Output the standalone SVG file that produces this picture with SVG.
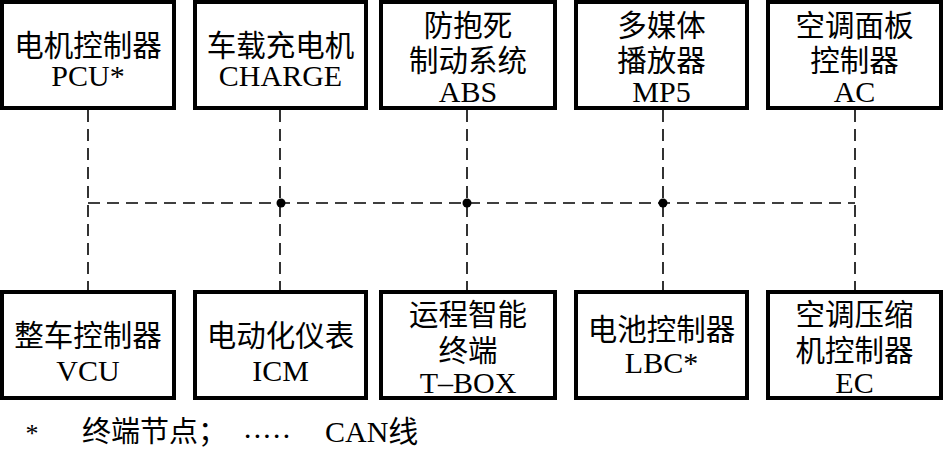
<svg xmlns="http://www.w3.org/2000/svg" width="943" height="449" viewBox="0 0 943 449">
<style>
.box{fill:#fff;stroke:#000;stroke-width:4}
.t{font-family:"Liberation Serif","Noto Sans CJK SC",serif;font-size:29.5px;text-anchor:middle;fill:#000}
.l{font-family:"Liberation Serif","Noto Sans CJK SC",serif;font-size:30px;text-anchor:middle;fill:#000}
.bus{stroke:#000;stroke-width:1.6;fill:none;stroke-dasharray:12 7}
.dot{fill:#000}
</style>
<rect width="943" height="449" fill="#fff"/>
<g id="connectors">
<path class="bus" d="M88,110 V290"/>
<path class="bus" d="M280,110 V290"/>
<path class="bus" d="M467,110 V290"/>
<path class="bus" d="M663,110 V290"/>
<path class="bus" d="M855,110 V290"/>
<path class="bus" d="M88,203 H855"/>
<circle class="dot" cx="281" cy="203" r="4.5"/>
<circle class="dot" cx="467" cy="203" r="4.5"/>
<circle class="dot" cx="663" cy="203" r="4.5"/>
</g>
<g id="pcu"><rect class="box" x="2" y="2" width="172" height="106"/><text class="t" x="88" y="56">电机控制器</text><text class="l" x="88" y="86">PCU*</text></g>
<g id="charge"><rect class="box" x="195" y="2" width="171" height="106"/><text class="t" x="280.5" y="56">车载充电机</text><text class="l" x="280.5" y="86">CHARGE</text></g>
<g id="abs"><rect class="box" x="381" y="2" width="174" height="106"/><text class="t" x="468" y="36">防抱死</text><text class="t" x="468" y="71">制动系统</text><text class="l" x="468" y="102">ABS</text></g>
<g id="mp5"><rect class="box" x="576" y="2" width="171" height="106"/><text class="t" x="661.5" y="36">多媒体</text><text class="t" x="661.5" y="71">播放器</text><text class="l" x="661.5" y="102">MP5</text></g>
<g id="ac"><rect class="box" x="768" y="2" width="173" height="106"/><text class="t" x="854.5" y="36">空调面板</text><text class="t" x="854.5" y="71">控制器</text><text class="l" x="854.5" y="102">AC</text></g>
<g id="vcu"><rect class="box" x="2" y="292" width="172" height="106"/><text class="t" x="88" y="346">整车控制器</text><text class="l" x="88" y="381">VCU</text></g>
<g id="icm"><rect class="box" x="195" y="292" width="171" height="106"/><text class="t" x="280.5" y="346">电动化仪表</text><text class="l" x="280.5" y="381">ICM</text></g>
<g id="tbox"><rect class="box" x="381" y="292" width="174" height="106"/><text class="t" x="468" y="325">运程智能</text><text class="t" x="468" y="361">终端</text><text class="l" x="468" y="393">T–BOX</text></g>
<g id="lbc"><rect class="box" x="576" y="292" width="171" height="106"/><text class="t" x="661.5" y="340">电池控制器</text><text class="l" x="661.5" y="373">LBC*</text></g>
<g id="ec"><rect class="box" x="768" y="292" width="173" height="106"/><text class="t" x="854.5" y="325">空调压缩</text><text class="t" x="854.5" y="361">机控制器</text><text class="l" x="854.5" y="393">EC</text></g>
<g id="legend">
<text x="32" y="442" style="font-family:'Liberation Serif',serif;font-size:26px;text-anchor:middle">*</text>
<text x="82" y="442" style="font-family:'Liberation Serif','Noto Sans CJK SC',serif;font-size:29px">终端节点；</text>
<text x="244" y="443" textLength="46" lengthAdjust="spacing" style="font-family:'Liberation Serif',serif;font-size:22px;font-weight:bold">·····</text>
<text x="325" y="442" style="font-family:'Liberation Serif','Noto Sans CJK SC',serif;font-size:30px">CAN线</text>
</g>
</svg>
